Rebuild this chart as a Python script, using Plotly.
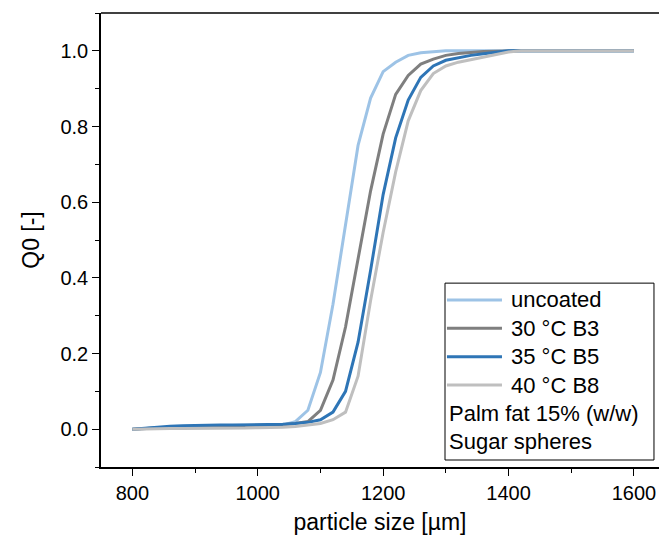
import plotly.graph_objects as go

# Particle size grid (µm)
size_um = [800, 820, 840, 860, 880, 900, 920, 940, 960, 980, 1000, 1020, 1040,
           1060, 1080, 1100, 1120, 1140, 1160, 1180, 1200, 1220, 1240, 1260,
           1280, 1300, 1320, 1340, 1360, 1380, 1400, 1420, 1440, 1460, 1480,
           1500, 1520, 1540, 1560, 1580, 1600]

# Cumulative number distribution Q0 for each batch
q0_uncoated = [0.0, 0.002, 0.004, 0.005, 0.006, 0.007, 0.008, 0.008, 0.009, 0.009, 0.009, 0.01, 0.011,
               0.02, 0.05, 0.15, 0.33, 0.54, 0.75, 0.875, 0.945, 0.97, 0.988, 0.995,
               0.998, 1.0, 1.0, 1.0, 1.0, 1.0, 1.0, 1.0, 1.0, 1.0, 1.0,
               1.0, 1.0, 1.0, 1.0, 1.0, 1.0]
q0_30c_b3 = [0.0, 0.002, 0.004, 0.006, 0.007, 0.008, 0.008, 0.009, 0.009, 0.01, 0.01, 0.011, 0.012,
             0.015, 0.02, 0.05, 0.13, 0.27, 0.45, 0.63, 0.78, 0.885, 0.935, 0.965,
             0.978, 0.988, 0.993, 0.996, 0.998, 0.999, 1.0, 1.0, 1.0, 1.0, 1.0,
             1.0, 1.0, 1.0, 1.0, 1.0, 1.0]
q0_35c_b5 = [0.0, 0.003, 0.006, 0.008, 0.009, 0.01, 0.01, 0.011, 0.011, 0.011, 0.012, 0.012, 0.013,
             0.015, 0.018, 0.025, 0.045, 0.1, 0.23, 0.42, 0.62, 0.77, 0.87, 0.93,
             0.96, 0.975, 0.982, 0.988, 0.992, 0.997, 1.0, 1.0, 1.0, 1.0, 1.0,
             1.0, 1.0, 1.0, 1.0, 1.0, 1.0]
q0_40c_b8 = [0.0, 0.001, 0.001, 0.002, 0.002, 0.002, 0.003, 0.003, 0.003, 0.003, 0.004, 0.004, 0.005,
             0.007, 0.01, 0.015, 0.025, 0.045, 0.14, 0.34, 0.52, 0.68, 0.815, 0.895,
             0.94, 0.96, 0.97, 0.977, 0.983, 0.99, 0.997, 1.0, 1.0, 1.0, 1.0,
             1.0, 1.0, 1.0, 1.0, 1.0, 1.0]

series_names = ["uncoated", "30 °C B3", "35 °C B5", "40 °C B8"]
series_values = [q0_uncoated, q0_30c_b3, q0_35c_b5, q0_40c_b8]
series_colors = ["#9DC3E6", "#7F7F7F", "#2E75B6", "#BFBFBF"]

note_lines = ["Palm fat 15% (w/w)", "Sugar spheres"]

x_ticks = [800, 1000, 1200, 1400, 1600]
y_ticks = [0.0, 0.2, 0.4, 0.6, 0.8, 1.0]

FONT = "Liberation Sans, Arial, sans-serif"

fig = go.Figure()
for name, vals, col in zip(series_names, series_values, series_colors):
    fig.add_trace(go.Scatter(x=size_um, y=vals, mode="lines", name=name,
                             line=dict(color=col, width=3), showlegend=False))

axis_common = dict(
    showline=True, linecolor="black", linewidth=1.5,
    ticks="outside", ticklen=7, tickwidth=1.2, tickcolor="black",
    showgrid=False, zeroline=False,
    tickfont=dict(family=FONT, size=20, color="black"),
)

fig.update_xaxes(
    range=[750, 1640], tickvals=x_ticks, ticktext=[str(v) for v in x_ticks],
    minor=dict(ticks="outside", ticklen=4, tickcolor="black", dtick=100, tick0=800),
    title=dict(text="particle size [µm]", font=dict(family=FONT, size=23, color="black"),
               standoff=11),
    mirror=False, **axis_common)
fig.update_yaxes(
    range=[-0.1, 1.1], tickvals=y_ticks, ticktext=[f"{v:.1f}" for v in y_ticks],
    minor=dict(ticks="outside", ticklen=4, tickcolor="black", dtick=0.1, tick0=0),
    title=dict(text="Q0 [-]", font=dict(family=FONT, size=23, color="black"),
               standoff=14),
    **axis_common)

# top frame line
fig.add_shape(type="line", xref="paper", yref="paper", x0=0, x1=1, y0=1, y1=1,
              line=dict(color="black", width=1.5))

# boxed legend: four series rows followed by two note rows
box_left, box_right, box_bottom, box_top = 0.6165, 0.991, 0.0154, 0.405
row_top, row_step = 0.368, 0.0625
sample_x0, sample_x1, label_x, note_x = 0.620, 0.7186, 0.731, 0.6195

fig.add_shape(type="rect", xref="paper", yref="paper",
              x0=box_left, x1=box_right, y0=box_bottom, y1=box_top,
              line=dict(color="black", width=1), fillcolor="white", layer="above")

for i, (name, col) in enumerate(zip(series_names, series_colors)):
    yy = row_top - i * row_step
    fig.add_shape(type="line", xref="paper", yref="paper",
                  x0=sample_x0, x1=sample_x1, y0=yy, y1=yy,
                  line=dict(color=col, width=3), layer="above")
    fig.add_annotation(text=name, xref="paper", yref="paper", x=label_x, y=yy,
                       xanchor="left", yanchor="middle", showarrow=False,
                       font=dict(family=FONT, size=22, color="black"))

for j, txt in enumerate(note_lines):
    yy = row_top - (len(series_names) + j) * row_step
    fig.add_annotation(text=txt, xref="paper", yref="paper", x=note_x, y=yy,
                       xanchor="left", yanchor="middle", showarrow=False,
                       font=dict(family=FONT, size=22, color="black"))

fig.update_layout(
    width=661, height=539,
    margin=dict(l=101, r=2, t=13, b=72),
    paper_bgcolor="white", plot_bgcolor="white",
    showlegend=False,
)

fig.write_html("out.html")
